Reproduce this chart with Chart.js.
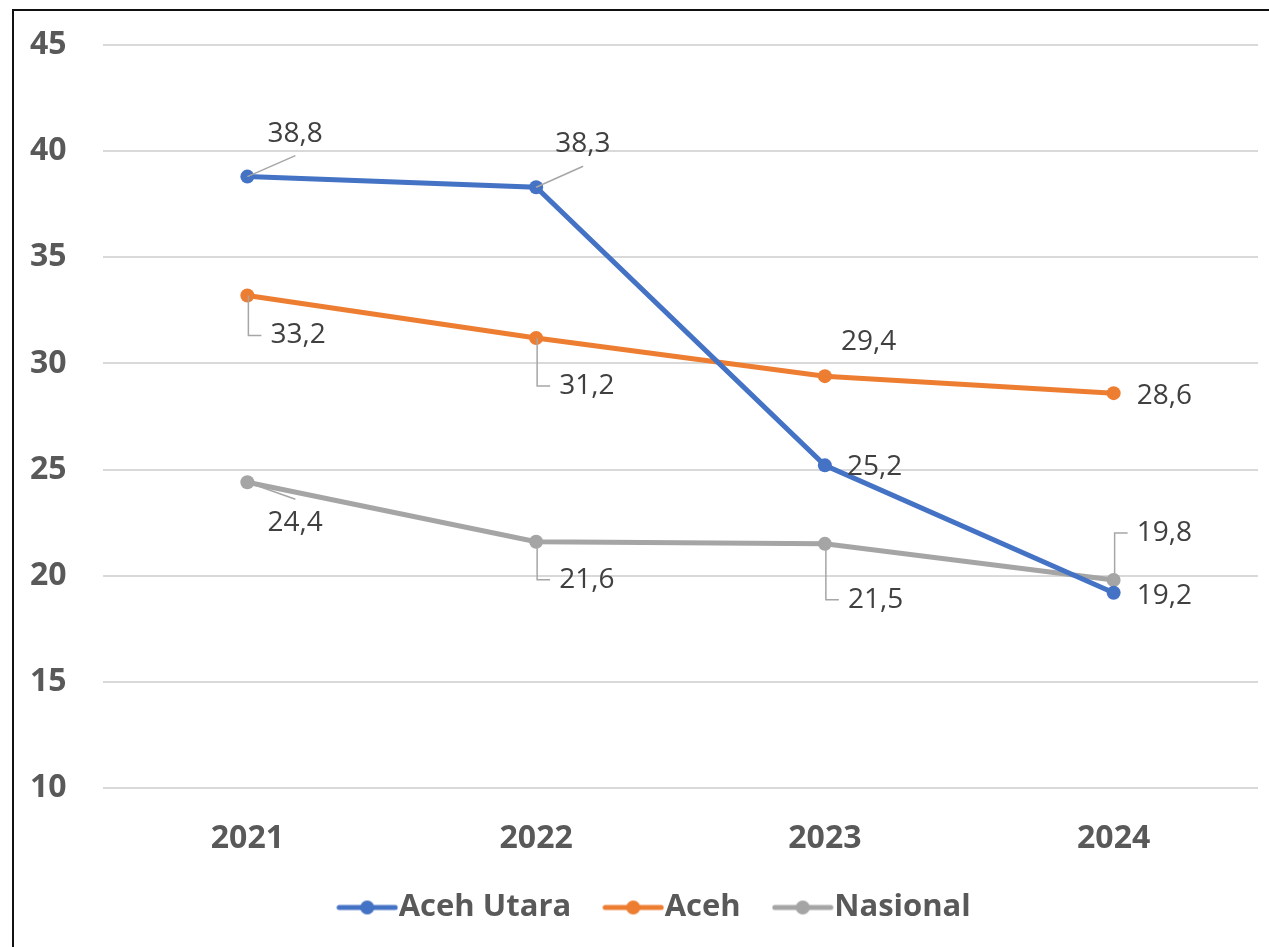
<!DOCTYPE html>
<html>
<head>
<meta charset="utf-8">
<script src="https://cdn.jsdelivr.net/npm/chart.js@4.4.1/dist/chart.umd.min.js"></script>
<style>
    html, body { margin: 0; padding: 0; background: #fff; overflow: hidden; }
    #frame {
        position: absolute; left: 12px; top: 9px; width: 1300px; height: 1000px;
        border-left: 2px solid #111; border-top: 2px solid #111; z-index: 0;
    }
    #wrap { position: absolute; left: 0; top: 0; width: 1269px; height: 947px; z-index: 1; }
</style>
</head>
<body>
<div id="frame"></div>
<div id="wrap"><canvas id="chart" width="1269" height="947"></canvas></div>
<script>
// ── data ─────────────────────────────────────────────────────────────────────
const years     = ['2021', '2022', '2023', '2024'];
const acehUtara = [38.8, 38.3, 25.2, 19.2];
const aceh      = [33.2, 31.2, 29.4, 28.6];
const nasional  = [24.4, 21.6, 21.5, 19.8];

const seriesNames  = ['Aceh Utara', 'Aceh', 'Nasional'];
const seriesColors = ['#4472C4', '#ED7D31', '#A5A5A5'];

const TEXT_AXIS  = '#595959';
const TEXT_LABEL = '#404040';
const FONT = '"Open Sans", sans-serif';

// label offset from each point (px) and leader style, per series
const labelPlacement = [
    [{dx: 20, dy: -43, lead: 'diag'}, {dx: 19, dy: -43, lead: 'diag'}, {dx: 22, dy: 2}, {dx: 23, dy: 3}],
    [{dx: 23, dy: 40, lead: 'elbow'}, {dx: 23, dy: 48, lead: 'elbow'}, {dx: 16, dy: -34}, {dx: 23, dy: 3}],
    [{dx: 20, dy: 41, lead: 'diag'}, {dx: 23, dy: 38, lead: 'elbow'}, {dx: 23, dy: 56, lead: 'elbow'}, {dx: 23, dy: -47, lead: 'elbow'}]
];

// legend marker: short line with a dot, like Excel
function makeLegendIcon(color) {
    const c = document.createElement('canvas');
    c.width = 62; c.height = 16;
    const g = c.getContext('2d');
    g.strokeStyle = color; g.lineWidth = 5; g.lineCap = 'round';
    g.beginPath(); g.moveTo(3, 8); g.lineTo(59, 8); g.stroke();
    g.fillStyle = color;
    g.beginPath(); g.arc(31, 8, 7, 0, Math.PI * 2); g.fill();
    return c;
}
const legendIcons = seriesColors.map(makeLegendIcon);

const fmt = v => v.toFixed(1).replace('.', ',');

const dataLabels = {
    id: 'dataLabels',
    afterDatasetsDraw(chart) {
        const ctx = chart.ctx;
        ctx.save();
        chart.data.datasets.forEach((ds, di) => {
            const meta = chart.getDatasetMeta(di);
            meta.data.forEach((pt, i) => {
                const pl = labelPlacement[di][i];
                const lx = pt.x + pl.dx;
                const cy = pt.y + pl.dy;
                ctx.strokeStyle = '#A6A6A6';
                ctx.lineWidth = 1.5;
                if (pl.lead === 'diag') {
                    ctx.beginPath();
                    ctx.moveTo(pt.x, pt.y);
                    ctx.lineTo(lx + 28, cy + (pl.dy < 0 ? 22 : -24));
                    ctx.stroke();
                } else if (pl.lead === 'elbow') {
                    ctx.beginPath();
                    ctx.moveTo(pt.x + 1, pt.y);
                    ctx.lineTo(pt.x + 1, cy);
                    ctx.lineTo(lx - 9, cy);
                    ctx.stroke();
                }
                ctx.font = '28px ' + FONT;
                ctx.fillStyle = TEXT_LABEL;
                ctx.textAlign = 'left';
                ctx.textBaseline = 'middle';
                ctx.fillText(fmt(ds.data[i]), lx, cy);
            });
        });
        ctx.restore();
    }
};

// fixed legend box height, then nudge it under the year labels
const legendHeight = {
    id: 'legendHeight',
    afterInit(chart) {
        const lg = chart.legend;
        const orig = lg.fit;
        lg.fit = function () { orig.call(this); this.height = 87; };
    },
    afterLayout(chart) {
        const lg = chart.legend;
        lg.top -= 14; lg.bottom -= 14;
        lg.left += 17; lg.right += 17;
    }
};

new Chart(document.getElementById('chart'), {
    type: 'line',
    data: {
        labels: years,
        datasets: [acehUtara, aceh, nasional].map((vals, i) => ({
            label: seriesNames[i],
            data: vals,
            borderColor: seriesColors[i],
            backgroundColor: seriesColors[i],
            borderWidth: 5,
            pointRadius: 7,
            pointBorderWidth: 0,
            pointHoverRadius: 7,
            tension: 0
        }))
    },
    options: {
        responsive: false,
        animation: false,
        layout: { padding: { top: 45, right: 11, left: 30, bottom: 0 } },
        plugins: {
            tooltip: { enabled: false },
            legend: {
                position: 'bottom',
                labels: {
                    usePointStyle: true,
                    pointStyleWidth: 32,
                    padding: 46,
                    color: TEXT_AXIS,
                    font: { family: FONT, size: 31, weight: 'bold' },
                    generateLabels(chart) {
                        const items = Chart.defaults.plugins.legend.labels.generateLabels(chart);
                        items.forEach((it, i) => { it.pointStyle = legendIcons[i]; });
                        return items;
                    }
                }
            }
        },
        scales: {
            x: {
                offset: true,
                grid: { display: false },
                border: { display: false },
                ticks: {
                    color: TEXT_AXIS, padding: 24,
                    font: { family: FONT, size: 32, weight: 'bold' }
                },
                afterFit: s => { s.height = 72; }
            },
            y: {
                min: 10, max: 45,
                ticks: {
                    stepSize: 5, color: TEXT_AXIS, padding: 0, crossAlign: 'far',
                    font: { family: FONT, size: 32, weight: 'bold' }
                },
                grid: { color: '#D9D9D9', lineWidth: 2, drawTicks: false },
                border: { display: false },
                afterFit: s => { s.width = 73; }
            }
        }
    },
    plugins: [dataLabels, legendHeight]
});
</script>
</body>
</html>
